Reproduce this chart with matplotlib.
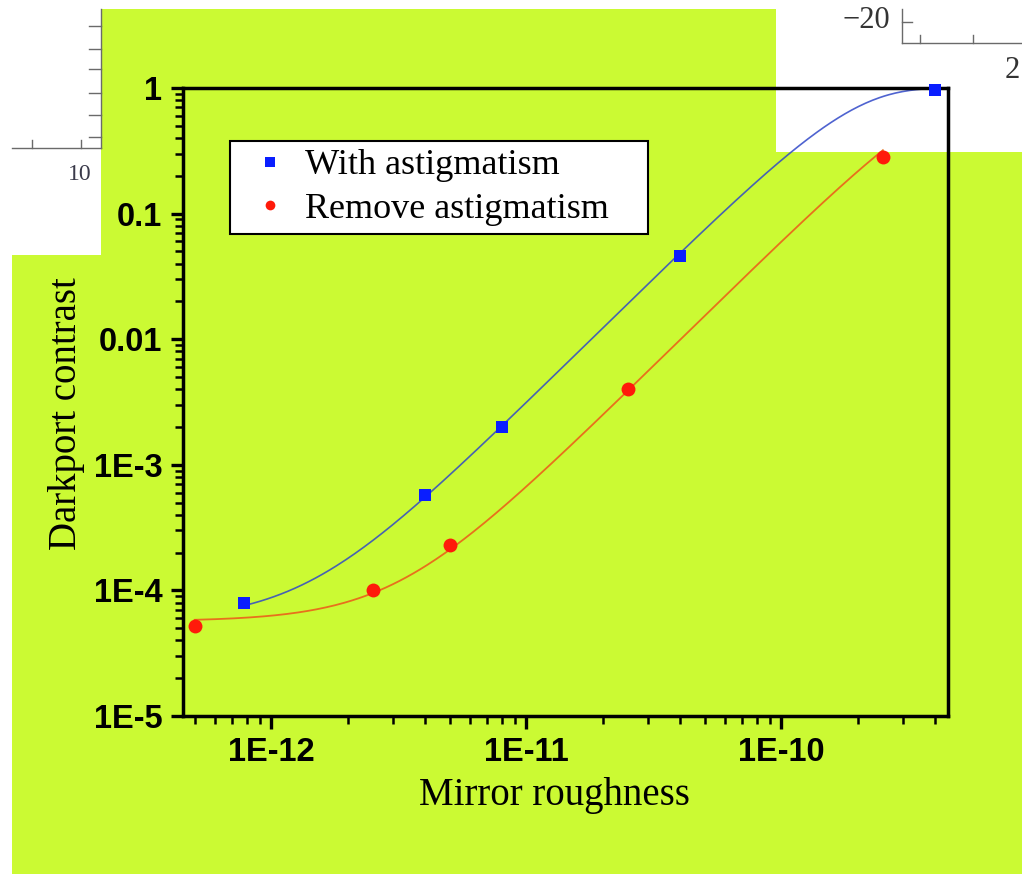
import numpy as np
import matplotlib
matplotlib.use("Agg")
import matplotlib.pyplot as plt
from matplotlib.lines import Line2D
from matplotlib.patches import Rectangle

# roughness (m) vs dark port contrast
x_astig = [7.8e-13, 4e-12, 8e-12, 4e-11, 4e-10]
y_astig = [8.0e-5, 5.8e-4, 2.0e-3, 0.046, 0.96]
x_noastig = [5e-13, 2.5e-12, 5e-12, 2.5e-11, 2.5e-10]
y_noastig = [5.2e-5, 1.0e-4, 2.3e-4, 4.0e-3, 0.28]

xtick_vals = [1e-12, 1e-11, 1e-10]
xtick_labels = ["1E-12", "1E-11", "1E-10"]
ytick_vals = [1e-5, 1e-4, 1e-3, 1e-2, 1e-1, 1]
ytick_labels = ["1E-5", "1E-4", "1E-3", "0.01", "0.1", "1"]

W, H = 1022, 876
LIME = "#cbfa33"
TICK_FONT = "Liberation Sans"
SERIF = "Liberation Serif"


def px(x, y):
    # pixel position -> figure fraction
    return x / W, 1 - y / H


C0_GRID = np.logspace(-5.5, -3, 300)
A_GRID = np.logspace(17, 21, 600)


def fit_errors(x, y):
    # log-space squared error of y = c0 + (1 - c0)(1 - exp(-a x^2)) on the grid
    x = np.asarray(x)
    y = np.asarray(y)
    c0 = C0_GRID[:, None, None]
    model = c0 + (1 - c0) * (1 - np.exp(-A_GRID[None, :, None] * x ** 2))
    return ((np.log10(model) - np.log10(y)) ** 2).sum(axis=2)


def joint_fit(series):
    # both curves share the same residual floor c0
    errs = [fit_errors(x, y) for x, y in series]
    total = sum(e.min(axis=1) for e in errs)
    i = np.argmin(total)
    c0 = C0_GRID[i]
    curves = []
    for (x, _), e in zip(series, errs):
        a = A_GRID[np.argmin(e[i])]
        xs = np.logspace(np.log10(min(x)), np.log10(max(x)), 300)
        curves.append((xs, c0 + (1 - c0) * (1 - np.exp(-a * xs ** 2))))
    return curves


fig = plt.figure(figsize=(W / 100, H / 100), dpi=100)
fig.patch.set_facecolor("white")

# backdrop and the pasted white corners
fig.add_artist(Rectangle(px(12, 874), (W - 12) / W, 865 / H, facecolor=LIME,
                         edgecolor="none", zorder=-3))
fig.add_artist(Rectangle(px(0, 255), 101 / W, 255 / H, facecolor="white",
                         edgecolor="none", zorder=-2))
fig.add_artist(Rectangle(px(776, 152), (W - 776) / W, 152 / H, facecolor="white",
                         edgecolor="none", zorder=-2))

# stray axis pieces in the corners
GREY = "#6a6a6a"
frag = [((101, 101), (9, 148)), ((12, 101), (148, 148))]
frag += [((89, 101), (yy, yy)) for yy in (26, 49, 69, 93, 115, 137)]
frag += [((xx, xx), (140, 148)) for xx in (32, 81)]
frag += [((902, 902), (9, 43)), ((902, 1022), (43, 43)), ((902, 912), (22, 22))]
frag += [((xx, xx), (35, 43)) for xx in (920, 973)]
for xs_, ys_ in frag:
    fig.add_artist(Line2D([xs_[0] / W, xs_[1] / W], [1 - ys_[0] / H, 1 - ys_[1] / H],
                          color=GREY, lw=1.0))
fig.text(*px(80, 175), "10", family=SERIF, fontsize=17, color="#3a3a4a",
         ha="center", va="center")
fig.text(*px(890, 21), "\u221220", family=SERIF, fontsize=22, color="#333333",
         ha="right", va="center")
fig.text(*px(1020, 70), "2", family=SERIF, fontsize=22, color="#333333",
         ha="right", va="center")

ax = fig.add_axes([183 / W, 1 - 716 / H, 765 / W, 628 / H])
ax.patch.set_visible(False)
ax.set_xscale("log")
ax.set_yscale("log")
ax.set_xlim(4.5e-13, 4.5e-10)
ax.set_ylim(1e-5, 1)

(xb, yb), (xr, yr) = joint_fit([(x_astig, y_astig), (x_noastig, y_noastig)])
ax.plot(xb, yb, color="#3048c8", lw=1.2, alpha=0.85, zorder=2)
ax.plot(xr, yr, color="#e8701c", lw=1.3, zorder=2)

ax.plot(x_astig, y_astig, "s", color="#0a1eff", ms=8.6, mew=0, ls="none",
        label="With astigmatism", zorder=3, clip_on=False)
ax.plot(x_noastig, y_noastig, "o", color="#ff1a0a", ms=10, mew=0, ls="none",
        label="Remove astigmatism", zorder=3, clip_on=False)

for s in ax.spines.values():
    s.set_linewidth(2.5)
ax.tick_params(which="major", direction="out", length=9, width=2.4, pad=6)
ax.tick_params(which="minor", direction="out", length=5.5, width=1.8)
ax.set_xticks(xtick_vals)
ax.set_xticklabels(xtick_labels)
ax.set_yticks(ytick_vals)
ax.set_yticklabels(ytick_labels)
for lab in ax.get_xticklabels() + ax.get_yticklabels():
    lab.set_family(TICK_FONT)
    lab.set_fontsize(23.5)
    lab.set_fontweight("bold")

ax.set_xlabel("Mirror roughness", family=SERIF, fontsize=28)
ax.set_ylabel("Darkport contrast", family=SERIF, fontsize=28)
ax.xaxis.label.set_va("center")
ax.yaxis.label.set_va("center")
ax.xaxis.set_label_coords(0.486, -0.126)
ax.yaxis.set_label_coords(-0.152, 0.482)

leg = ax.legend(loc="upper left", mode="expand",
                bbox_to_anchor=(0.0614, 0.5, 0.5464, 0.4156), borderaxespad=0,
                prop={"family": SERIF, "size": 26}, frameon=True, fancybox=False,
                framealpha=1, edgecolor="black", handletextpad=0.05,
                labelspacing=0.28, borderpad=0.22, handlelength=1.8)
leg.get_frame().set_linewidth(1.5)
for h in leg.legend_handles:
    h.set_markersize(7)

fig.savefig("out.png", dpi=100)
